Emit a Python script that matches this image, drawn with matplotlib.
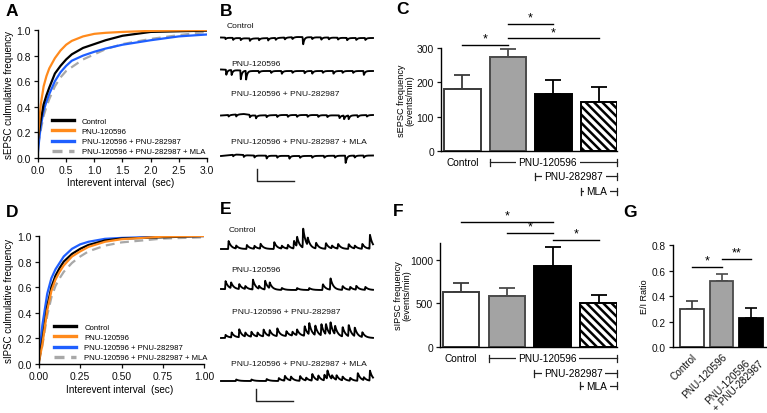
import numpy as np
import matplotlib
matplotlib.use('Agg')
import matplotlib.pyplot as plt
import matplotlib.transforms as mtransforms
from matplotlib.lines import Line2D

plt.rcParams['font.family'] = ['Liberation Sans', 'DejaVu Sans']
plt.rcParams['hatch.linewidth'] = 1.8
plt.rcParams['axes.linewidth'] = 1.0

# ---------------- data ----------------
cdf_labels = ['Control', 'PNU-120596', 'PNU-120596 + PNU-282987',
              'PNU-120596 + PNU-282987 + MLA']
cdf_colors = ['#000000', '#FF8A1C', '#1F5FFF', '#A8A8A8']

# Panel A: sEPSC cumulative frequency
sepsc_x = [0, 0.025, 0.05, 0.1, 0.15, 0.2, 0.3, 0.4, 0.5, 0.6, 0.8, 1.0, 1.2, 1.5, 2.0, 2.5, 3.0]
sepsc_ctrl = [0.15, 0.22, 0.30, 0.42, 0.49, 0.55, 0.66, 0.72, 0.77, 0.81, 0.86, 0.89, 0.92, 0.955, 0.985, 0.99, 0.995]
sepsc_pnu = [0.15, 0.30, 0.42, 0.56, 0.64, 0.70, 0.78, 0.84, 0.885, 0.915, 0.95, 0.97, 0.978, 0.985, 0.993, 0.997, 1.0]
sepsc_pnu_pnu = [0.05, 0.16, 0.25, 0.37, 0.44, 0.50, 0.60, 0.67, 0.72, 0.76, 0.80, 0.83, 0.855, 0.885, 0.92, 0.95, 0.965]
sepsc_mla = [0.10, 0.16, 0.22, 0.33, 0.40, 0.46, 0.56, 0.63, 0.68, 0.71, 0.77, 0.81, 0.85, 0.89, 0.93, 0.96, 0.985]

# Panel D: sIPSC cumulative frequency
sipsc_x = [0, 0.02, 0.05, 0.075, 0.1, 0.125, 0.15, 0.2, 0.25, 0.3, 0.4, 0.5, 0.75, 1.0]
sipsc_ctrl = [0.03, 0.18, 0.45, 0.60, 0.69, 0.75, 0.80, 0.86, 0.90, 0.93, 0.965, 0.98, 0.99, 1.0]
sipsc_pnu = [0.02, 0.15, 0.42, 0.57, 0.66, 0.72, 0.77, 0.84, 0.88, 0.915, 0.955, 0.975, 0.995, 1.0]
sipsc_pnu_pnu = [0.05, 0.30, 0.55, 0.67, 0.74, 0.79, 0.84, 0.90, 0.935, 0.955, 0.978, 0.985, 0.995, 1.0]
sipsc_mla = [0.02, 0.14, 0.38, 0.52, 0.61, 0.67, 0.72, 0.79, 0.84, 0.88, 0.925, 0.95, 0.98, 0.99]

# Panels C / F: frequencies (mean, SEM)
bar_groups = ['Control', 'PNU-120596', 'PNU-120596 + PNU-282987', 'PNU-120596 + PNU-282987 + MLA']
sepsc_mean = [182, 274, 165, 144]
sepsc_sem = [38, 22, 41, 43]
sipsc_mean = [634, 585, 939, 500]
sipsc_sem = [104, 100, 219, 96]

# Panel G: E/I ratio
ei_labels = ['Control', 'PNU-120596', 'PNU-120596\n+ PNU-282987']
ei_mean = [0.30, 0.515, 0.23]
ei_sem = [0.06, 0.058, 0.075]

# significance brackets: (i, j, height, label)
sepsc_sig = [(0, 1, 309, '*'), (1, 2, 369, '*'), (1, 3, 328, '*')]
sipsc_sig = [(0, 2, 1442, '*'), (1, 2, 1315, '*'), (2, 3, 1234, '*')]
ei_sig = [(0, 1, 0.63, '*'), (1, 2, 0.69, '**')]

# example traces: events (time fraction, amplitude px), baseline knots
trace_titles = ['Control', 'PNU-120596', 'PNU-120596 + PNU-282987', 'PNU-120596 + PNU-282987 + MLA']
epsc_events = [
    [(0.03, -1.5), (0.08, -2), (0.13, -2), (0.19, -2.5), (0.25, -2), (0.31, -2.5), (0.36, -2),
     (0.42, -2), (0.47, -2), (0.54, -8), (0.6, -2), (0.66, -2.5), (0.71, -2), (0.77, -2),
     (0.83, -2.5), (0.89, -2), (0.95, -2)],
    [(0.035, -5), (0.07, -5), (0.13, -9), (0.165, -9), (0.25, -2), (0.33, -2), (0.4, -3),
     (0.47, -2), (0.55, -2.5), (0.6, -3), (0.67, -2), (0.74, -3), (0.8, -2), (0.87, -2), (0.94, -4)],
    [(0.05, -1.5), (0.1, -2), (0.19, -2.5), (0.23, -3), (0.3, -2), (0.37, -2), (0.44, -2),
     (0.5, -2), (0.57, -2), (0.64, -2), (0.7, -2), (0.78, -3), (0.81, -4), (0.84, -4),
     (0.9, -2), (0.96, -1.5)],
    [(0.08, -1.5), (0.15, -2), (0.22, -2), (0.3, -3), (0.37, -2), (0.45, -3), (0.52, -2),
     (0.6, -2), (0.68, -2), (0.75, -2), (0.82, -8), (0.88, -2), (0.94, -2)],
]
epsc_base = [
    [(0, 0.5), (0.2, -0.5), (0.35, 0), (0.5, 1), (0.7, 0.5), (0.85, 0), (1, 0)],
    [(0, 1.5), (0.2, 0), (1, 0)],
    [(0, 0), (0.15, 1.5), (0.22, 0), (0.4, 0.5), (0.6, 0.5), (0.8, 0), (1, 0.5)],
    [(0, 0), (0.1, 1.5), (0.2, 0.5), (0.5, 0), (1, 0.5)],
]
ipsc_events = [
    [(0.05, 8), (0.1, 3), (0.17, 4), (0.22, 3), (0.26, 5), (0.35, 7), (0.4, 3), (0.44, 4),
     (0.48, 8), (0.5, 10), (0.54, 20), (0.57, 8), (0.625, 6), (0.69, 6), (0.73, 3), (0.77, 5),
     (0.84, 5), (0.88, 3), (0.93, 5), (0.98, 14)],
    [(0.03, 8), (0.066, 6), (0.12, 5), (0.16, 3), (0.21, 10), (0.25, 3), (0.29, 9), (0.32, 6),
     (0.4, 2), (0.5, 2), (0.58, 2), (0.67, 6), (0.72, 12), (0.8, 4), (0.85, 3), (0.89, 4), (0.95, 3)],
    [(0.03, 3), (0.07, 5), (0.12, 8), (0.16, 4), (0.2, 5), (0.24, 4), (0.28, 7), (0.32, 6),
     (0.37, 8), (0.43, 5), (0.47, 4), (0.5, 6), (0.55, 10), (0.58, 12), (0.62, 10), (0.66, 12),
     (0.69, 11), (0.72, 13), (0.75, 9), (0.8, 10), (0.84, 12), (0.88, 9), (0.93, 5)],
    [(0.1, 1.5), (0.2, 1.5), (0.3, 2), (0.38, 3), (0.42, 5), (0.46, 4), (0.52, 5), (0.56, 3),
     (0.6, 7), (0.64, 5), (0.68, 6), (0.7, 9), (0.73, 4), (0.76, 5), (0.8, 4), (0.85, 3),
     (0.9, 8), (0.94, 3), (0.98, 10)],
]
ipsc_base = [
    [(0, 0), (1, 0)],
    [(0, 1), (0.3, 0), (1, 0)],
    [(0, -2), (0.5, 0), (1, -2)],
    [(0, 0), (1, 0)],
]

# ---------------- figure ----------------
W, H = 767, 414
fig = plt.figure(figsize=(W / 100, H / 100), dpi=100)


def px_axes(l, t, r, b):
    return fig.add_axes([l / W, 1 - b / H, (r - l) / W, (b - t) / H])


def style(ax, fs=7):
    for s in ('top', 'right'):
        ax.spines[s].set_visible(False)
    ax.tick_params(length=3, width=0.9, pad=2, labelsize=fs, colors='#111111')


# ---- CDF panels ----
def cdf_panel(ax, x, ys, xticks, xtlabels, ylabel, legend_anchor):
    styles = ['-', '-', '-', '--']
    order = [3, 2, 0, 1]
    for i in order:
        ls = styles[i]
        kw = dict(dashes=(4, 2.5)) if ls == '--' else {}
        ax.plot(x, ys[i], color=cdf_colors[i], lw=1.6, ls=ls, **kw)
    ax.set_xlim(xticks[0], xticks[-1])
    ax.set_ylim(0, 1)
    ax.set_xticks(xticks)
    ax.set_xticklabels(xtlabels)
    ax.set_yticks([0, 0.2, 0.4, 0.6, 0.8, 1.0])
    ax.set_yticklabels(['0.0', '0.2', '0.4', '0.6', '0.8', '1.0'])
    style(ax, 7.5)
    ax.set_xlabel('Interevent interval  (sec)', fontsize=7.2)
    ax.set_ylabel(ylabel, fontsize=7.0)
    handles = []
    for i in range(4):
        if i == 3:
            handles.append(Line2D([], [], color=cdf_colors[i], lw=2.4, dashes=(3, 2)))
        else:
            handles.append(Line2D([], [], color=cdf_colors[i], lw=2.4))
    ax.legend(handles, cdf_labels, loc='lower left', bbox_to_anchor=legend_anchor,
              frameon=False, fontsize=5.6, handlelength=2.9, handletextpad=1.0,
              labelspacing=0.35, borderpad=0, borderaxespad=0)


axA = px_axes(38, 31, 207, 159)
cdf_panel(axA, sepsc_x, [sepsc_ctrl, sepsc_pnu, sepsc_pnu_pnu, sepsc_mla],
          [0, 0.5, 1.0, 1.5, 2.0, 2.5, 3.0], ['0.0', '0.5', '1.0', '1.5', '2.0', '2.5', '3.0'],
          'sEPSC culmulative frequency', (0.08, 0.02))
axA.xaxis.set_label_coords(0.49, -0.15)
axA.yaxis.set_label_coords(-0.142, 0.5)

axD = px_axes(39, 237, 204, 365)
cdf_panel(axD, sipsc_x, [sipsc_ctrl, sipsc_pnu, sipsc_pnu_pnu, sipsc_mla],
          [0, 0.25, 0.5, 0.75, 1.0], ['0.00', '0.25', '0.50', '0.75', '1.00'],
          'sIPSC culmulative frequency', (0.09, 0.02))
axD.xaxis.set_label_coords(0.49, -0.155)
axD.yaxis.set_label_coords(-0.15, 0.5)


# ---- bar panels ----
bar_faces = ['white', '#A3A3A3', '#000000', 'white']
bar_edges = ['#3A3A3A', '#4A4A4A', '#000000', '#000000']
bar_hatch = [None, None, None, '\\\\\\\\']


def bar_panel(ax, means, sems, ylim, yticks, ylabel, sig, ax_h):
    pos = np.arange(len(means))
    for i in range(len(means)):
        ax.bar(pos[i], means[i], width=0.8, color=bar_faces[i], edgecolor=bar_edges[i],
               linewidth=1.4, hatch=bar_hatch[i], zorder=2)
        ax.errorbar(pos[i], means[i], yerr=[[0], [sems[i]]], fmt='none',
                    ecolor=bar_edges[i] if i != 3 else '#000000', elinewidth=1.3,
                    capsize=5.8, capthick=1.3, zorder=1)
    ax.set_ylim(*ylim)
    ax.set_yticks(yticks)
    ax.set_xticks([])
    style(ax, 7.5)
    ax.spines['bottom'].set_linewidth(1.0)
    ax.set_ylabel(ylabel, fontsize=6.6, linespacing=1.0)
    for i, j, h, lab in sig:
        ax.plot([pos[i], pos[j]], [h, h], color='black', lw=1.0, clip_on=False)
        ax.annotate(lab, xy=((pos[i] + pos[j]) / 2, h), xytext=(0, 0.3),
                    textcoords='offset points', ha='center', va='bottom', fontsize=9,
                    annotation_clip=False)


def group_rows(ax, rows, ax_h):
    trans = mtransforms.blended_transform_factory(ax.transData, ax.transAxes)
    for x0, x1, txt, xt, off in rows:
        y = -off / ax_h
        if x0 is not None:
            tk = 3.5 / ax_h
            ax.plot([x0, x1], [y, y], color='#222222', lw=0.9, transform=trans, clip_on=False)
            for xx in (x0, x1):
                ax.plot([xx, xx], [y - tk, y + tk], color='#222222', lw=0.9,
                        transform=trans, clip_on=False)
            ax.text(xt, y, txt, transform=trans, ha='center', va='center', fontsize=7.3,
                    bbox=dict(fc='white', ec='none', pad=1.8), zorder=5)
        else:
            ax.text(xt, y, txt, transform=trans, ha='center', va='center', fontsize=7.3)


axC = px_axes(441, 49, 617, 152)
bar_panel(axC, sepsc_mean, sepsc_sem, (0, 300), [0, 100, 200, 300],
          'sEPSC frequency\n(events/min)', sepsc_sig, 103)
axC.set_xlim(-0.47, 3.4)
axC.yaxis.set_label_coords(-0.15, 0.5)
group_rows(axC, [(None, None, bar_groups[0], 0, 11),
                 (0.6, 3.4, 'PNU-120596', 1.88, 11),
                 (1.6, 3.4, 'PNU-282987', 2.45, 25),
                 (2.6, 3.4, 'MLA', 2.96, 40)], 103)

axF = px_axes(440, 244, 617, 347.7)
bar_panel(axF, sipsc_mean, sipsc_sem, (0, 1200), [0, 500, 1000],
          'sIPSC frequency\n(events/min)', sipsc_sig, 103.7)
axF.set_xlim(-0.46, 3.4)
axF.yaxis.set_label_coords(-0.16, 0.5)
group_rows(axF, [(None, None, bar_groups[0], 0, 11.6),
                 (0.6, 3.4, 'PNU-120596', 1.88, 11.6),
                 (1.6, 3.4, 'PNU-282987', 2.45, 26.6),
                 (2.6, 3.4, 'MLA', 2.96, 39)], 103.7)

# ---- panel G ----
axG = px_axes(673, 246, 767, 348.3)
gpos = np.arange(len(ei_mean))
g_faces = ['white', '#A3A3A3', '#000000']
g_edges = ['#3A3A3A', '#4A4A4A', '#000000']
for i in range(len(ei_mean)):
    axG.bar(gpos[i], ei_mean[i], width=0.81, color=g_faces[i], edgecolor=g_edges[i],
            linewidth=1.3, zorder=2)
    axG.errorbar(gpos[i], ei_mean[i], yerr=[[0], [ei_sem[i]]], fmt='none',
                 ecolor=g_edges[i], elinewidth=1.2, capsize=4.5, capthick=1.2, zorder=1)
axG.set_xlim(-0.644, 2.54)
axG.set_ylim(0, 0.8)
axG.set_yticks([0, 0.2, 0.4, 0.6, 0.8])
axG.set_yticklabels(['0.0', '0.2', '0.4', '0.6', '0.8'])
style(axG, 7.3)
axG.set_xticks(gpos)
axG.set_xticklabels(ei_labels, rotation=45, ha='right', va='top', rotation_mode='anchor',
                    fontsize=7.2, linespacing=1.0)
for lab in axG.get_xticklabels():
    lab.set_multialignment('left')
axG.tick_params(axis='x', length=0, pad=3)
axG.set_ylabel('E/I Ratio', fontsize=6.5)
axG.yaxis.set_label_coords(-0.255, 0.5)
for i, j, h, lab in ei_sig:
    axG.plot([gpos[i], gpos[j]], [h, h], color='black', lw=1.0, clip_on=False)
    axG.annotate(lab, xy=((gpos[i] + gpos[j]) / 2, h), xytext=(0, 0.3),
                 textcoords='offset points', ha='center', va='bottom', fontsize=9,
                 annotation_clip=False)

# ---- trace panels ----
tgrid = np.linspace(0, 1, 600)


def make_trace(events, base, tau):
    bt, bv = zip(*base)
    y = np.interp(tgrid, bt, bv)
    for te, a in events:
        dt = tgrid - te
        k = np.where(dt < 0, np.clip(1 + dt / 0.003, 0, 1), np.exp(-dt / tau))
        y = y + a * k
    return y


def trace_panel(top, bottom, events, bases, tau, y0s, label_ys, label_xs, bar_xy):
    ax = px_axes(215, top, 380, bottom)
    ax.set_xlim(215, 380)
    ax.set_ylim(bottom, top)
    ax.axis('off')
    for ev, bs, y0, ly, lx, title in zip(events, bases, y0s, label_ys, label_xs, trace_titles):
        y = make_trace(ev, bs, tau)
        ax.plot(221 + tgrid * 152, y0 - y, color='black', lw=1.35)
        ax.text(lx, ly, title, fontsize=6.1, ha='left', va='center', color='#111111')
    bx, by = bar_xy
    ax.plot([bx, bx, bx + 37], [by - 12, by, by], color='#222222', lw=1.0)


trace_panel(15, 200, epsc_events, epsc_base, 0.008, [39, 72, 116.5, 157],
            [27, 65, 94, 143], [227, 231, 231, 231], (257, 182))
trace_panel(220, 412, ipsc_events, ipsc_base, 0.018, [250, 291, 337, 382],
            [230, 270, 313, 364], [229, 231, 232, 231], (256, 402))

# ---- panel letters ----
for letter, (x, y) in zip('ABCDEFG', [(6, 12), (220, 11), (396, 10), (6, 213),
                                       (220, 210), (393, 212), (623, 213)]):
    fig.text(x / W, 1 - y / H, letter, fontsize=12.5, fontweight='bold', ha='left', va='center')

fig.savefig('out.png', dpi=100)
